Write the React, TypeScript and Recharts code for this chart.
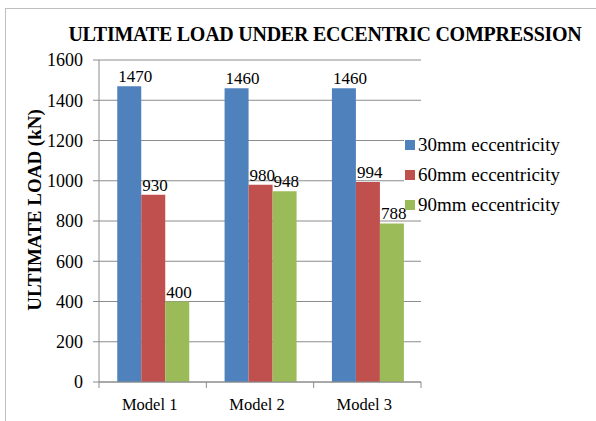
import React from 'react';
import { BarChart, Bar, XAxis, YAxis, CartesianGrid, Legend, LabelList } from 'recharts';

const categories = ['Model 1', 'Model 2', 'Model 3'];
const seriesNames = ['30mm eccentricity', '60mm eccentricity', '90mm eccentricity'];
const seriesKeys = ['e30', 'e60', 'e90'];
const seriesColors = ['#4f81bd', '#c0504d', '#9bbb59'];
const values30 = [1470, 1460, 1460];
const values60 = [930, 980, 994];
const values90 = [400, 948, 788];
const yTicks = [0, 200, 400, 600, 800, 1000, 1200, 1400, 1600];
const titleText = 'ULTIMATE LOAD UNDER ECCENTRIC COMPRESSION';
const yLabelText = 'ULTIMATE LOAD (kN)';

const data = categories.map((c, i) => ({
  name: c,
  e30: values30[i],
  e60: values60[i],
  e90: values90[i],
}));

const FONT = '"Liberation Serif", "Times New Roman", serif';
const GRID = '#8c8c8c';

const XTick = (props: any) => {
  const { x, y, payload, index, visibleTicksCount } = props;
  const off = payload && typeof payload.offset === 'number' ? payload.offset : 0;
  const isLast = index === (visibleTicksCount ?? categories.length) - 1;
  return (
    <g>
      <line x1={x - off} y1={y} x2={x - off} y2={y + 6} stroke={GRID} />
      {isLast && <line x1={x + off} y1={y} x2={x + off} y2={y + 6} stroke={GRID} />}
      <text x={x - 3} y={y + 28} textAnchor="middle" fontFamily={FONT} fontSize={16.5} fill="#000">
        {payload.value}
      </text>
    </g>
  );
};

const BarLabel = (props: any) => {
  const { x, y, value } = props;
  return (
    <text x={x + 1} y={y - 4} textAnchor="start" fontFamily={FONT} fontSize={17} fill="#000">
      {value}
    </text>
  );
};

const LegendContent = () => (
  <div style={{ fontFamily: FONT, fontSize: 19, color: '#000' }}>
    {seriesNames.map((n, i) => (
      <div
        key={n}
        style={{
          height: 30,
          display: 'flex',
          alignItems: 'center',
          background: i < seriesNames.length - 1 ? '#fff' : 'transparent',
        }}
      >
        <div style={{ width: 10, height: 10, marginLeft: 1, marginRight: 3, background: seriesColors[i] }} />
        <span style={{ whiteSpace: 'nowrap', lineHeight: '30px', background: '#fff' }}>{n}</span>
      </div>
    ))}
  </div>
);

export default function App() {
  return (
    <div style={{ position: 'absolute', left: 0, top: 0, width: 596, height: 421, background: '#fff', overflow: 'hidden' }}>
      <div
        style={{
          position: 'absolute',
          left: 5,
          top: 8,
          width: 700,
          height: 600,
          borderLeft: '1px solid #bfbfbf',
          borderTop: '1px solid #bfbfbf',
        }}
      />
      <BarChart
        width={596}
        height={421}
        data={data}
        margin={{ top: 60, right: 175, bottom: 0, left: 0 }}
        barCategoryGap="17%"
        barGap={0}
      >
        <CartesianGrid vertical={false} stroke={GRID} />
        <XAxis
          dataKey="name"
          height={39}
          tickLine={false}
          tickSize={0}
          tickMargin={0}
          axisLine={{ stroke: GRID }}
          tick={<XTick />}
          interval={0}
        />
        <YAxis
          width={99}
          domain={[0, 1600]}
          ticks={yTicks}
          tickSize={6}
          tickMargin={10}
          axisLine={{ stroke: GRID }}
          tickLine={{ stroke: GRID }}
          tick={{ fontFamily: FONT, fontSize: 18, fill: '#000' }}
          interval={0}
        />
        {seriesKeys.map((k, i) => (
          <Bar key={k} dataKey={k} name={seriesNames[i]} fill={seriesColors[i]} isAnimationActive={false}>
            <LabelList dataKey={k} content={<BarLabel />} />
          </Bar>
        ))}
        <Legend
          layout="vertical"
          align="center"
          verticalAlign="middle"
          content={<LegendContent />}
          wrapperStyle={{ position: 'absolute', left: 404, top: 130, width: 185, height: 92 }}
        />
      </BarChart>
      <svg width={596} height={421} style={{ position: 'absolute', left: 0, top: 0, pointerEvents: 'none' }}>
        <text x={325} y={41} textAnchor="middle" fontFamily={FONT} fontWeight="bold" fontSize={20} letterSpacing={-0.25} fill="#000">
          {titleText}
        </text>
        <text
          x={0}
          y={0}
          transform="translate(41,210) rotate(-90)"
          textAnchor="middle"
          fontFamily={FONT}
          fontWeight="bold"
          fontSize={19}
          fill="#000"
        >
          {yLabelText}
        </text>
      </svg>
    </div>
  );
}
